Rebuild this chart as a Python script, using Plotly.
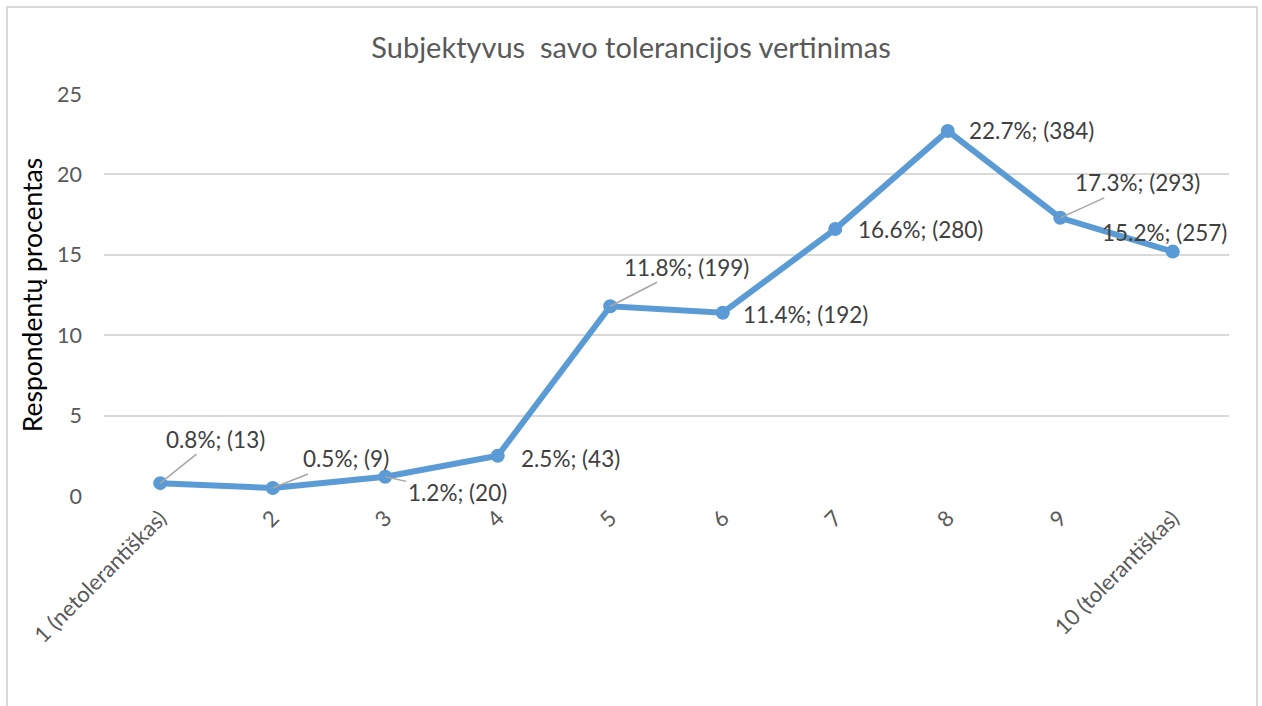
import plotly.graph_objects as go

categories = ["1 (netolerantiškas)", "2", "3", "4", "5", "6", "7", "8", "9", "10 (tolerantiškas)"]
percent = [0.8, 0.5, 1.2, 2.5, 11.8, 11.4, 16.6, 22.7, 17.3, 15.2]
counts = [13, 9, 20, 43, 199, 192, 280, 384, 293, 257]
y_ticks = [0, 5, 10, 15, 20, 25]

# label offsets (pixels) and whether a leader line is drawn
label_ax = [55, 73, 72, 73, 76, 83, 85, 84, 77, -8]
label_ay = [-44, -29, 16, 3, -39, 2, 0, 0, -35, -19]
leader = [True, True, True, False, True, False, False, False, True, False]

LINE = "#5B9BD5"
TXT = "#595959"
FONT = "Lato"

fig = go.Figure()
fig.add_trace(go.Scatter(
    x=categories, y=percent, mode="lines+markers",
    line=dict(color=LINE, width=6),
    marker=dict(color=LINE, size=14),
    hoverinfo="skip", showlegend=False,
))

annotations = []
for i, (p, n, ax, ay, ld) in enumerate(zip(percent, counts, label_ax, label_ay, leader)):
    annotations.append(dict(
        x=i, y=p, xref="x", yref="y",
        text=f"{p}%; ({n})",
        showarrow=True, arrowhead=0, arrowwidth=1.5, standoff=0,
        arrowcolor="#A6A6A6" if ld else "rgba(0,0,0,0)",
        ax=ax, ay=ay, font=dict(family=FONT, size=22.5, color="#404040"),
    ))

fig.update_layout(
    width=1262, height=706,
    margin=dict(l=104, r=33, t=94, b=210, autoexpand=False),
    paper_bgcolor="white", plot_bgcolor="white",
    title=dict(text="Subjektyvus  savo tolerancijos vertinimas", x=0.5, xref="container",
               xanchor="center", y=0.932, yanchor="middle",
               font=dict(family=FONT, size=29, color=TXT)),
    annotations=annotations,
    shapes=[dict(type="rect", xref="paper", yref="paper",
                 x0=-0.0862, x1=1.0249, y0=-0.6, y1=1.2164,
                 line=dict(color="#D9D9D9", width=2), layer="below")],
    font=dict(family=FONT),
)
fig.update_xaxes(
    range=[-0.5, len(categories) - 0.5],
    tickangle=-45, tickfont=dict(family=FONT, size=22, color=TXT), ticklabelstandoff=4,
    showgrid=False, showline=False, zeroline=False, ticks="", automargin=False,
)
fig.update_yaxes(
    range=[0, 25], tickvals=y_ticks, showgrid=True, gridcolor="#D9D9D9", gridwidth=2,
    zeroline=False, showline=False, ticks="", ticklabelstandoff=21, automargin=False,
    tickfont=dict(family=FONT, size=21.5, color=TXT),
    title=dict(text="Respondentų procentas", standoff=6,
               font=dict(family=FONT, size=26.5, color="#000000")),
)

fig.write_html("out.html", config={"displayModeBar": False},
               post_script="document.body.style.margin='0';")
